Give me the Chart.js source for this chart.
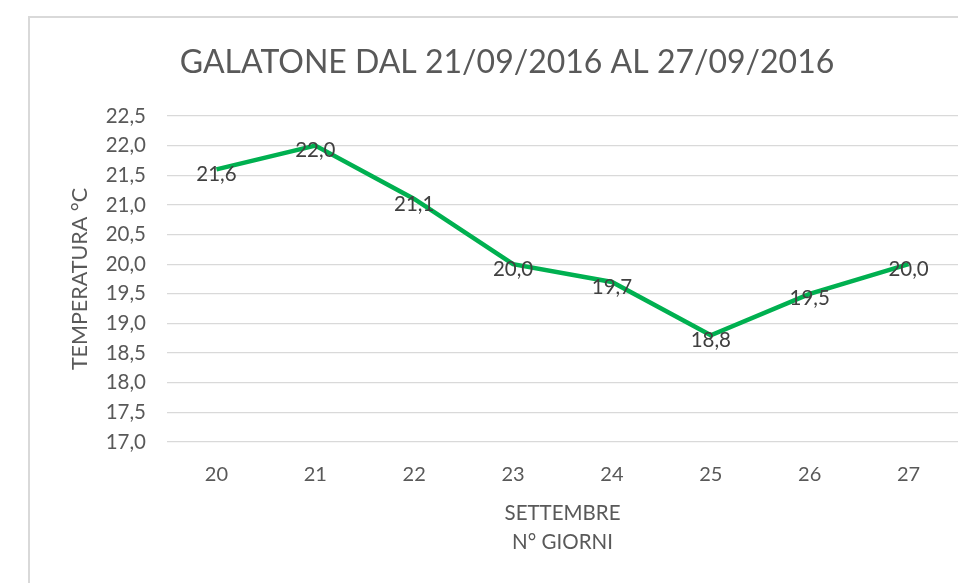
<!DOCTYPE html>
<html>
<head>
<meta charset="utf-8">
<script src="https://cdn.jsdelivr.net/npm/chart.js@4/dist/chart.umd.min.js"></script>
<style>
    html, body { margin: 0; padding: 0; background: #fff; overflow: hidden; }
    #wrap { position: relative; width: 958px; height: 583px; }
    #frame { position: absolute; left: 28px; top: 16px; width: 940px; height: 580px;
             border-left: 2px solid #d9d9d9; border-top: 2px solid #d9d9d9; }
    #grafico { position: absolute; left: 0; top: 0; }
</style>
</head>
<body>
<div id="wrap">
    <div id="frame"></div>
    <canvas id="grafico" width="958" height="583"></canvas>
</div>
<script>
    // Dati: giorni di settembre e temperature medie
    const giorni = ['20', '21', '22', '23', '24', '25', '26', '27'];
    const temperature = [21.6, 22.0, 21.1, 20.0, 19.7, 18.8, 19.5, 20.0];
    const yMin = 17.0;
    const yMax = 22.5;
    const yStep = 0.5;

    const FONT = 'Lato, "Liberation Sans", sans-serif';
    const GRIGIO = '#595959';

    // formato italiano con la virgola
    const virgola = v => Number(v).toFixed(1).replace('.', ',');

    // etichette dei valori sopra ogni punto
    const etichette = {
        id: 'etichette',
        afterDatasetsDraw(chart) {
            const ctx = chart.ctx;
            const meta = chart.getDatasetMeta(0);
            ctx.save();
            ctx.font = '20.5px ' + FONT;
            ctx.fillStyle = '#404040';
            ctx.textAlign = 'center';
            ctx.textBaseline = 'middle';
            meta.data.forEach((p, i) => {
                ctx.fillText(virgola(temperature[i]), p.x, p.y + 5);
            });
            ctx.restore();
        }
    };

    const ctx = document.getElementById('grafico').getContext('2d');
    new Chart(ctx, {
        type: 'line',
        data: {
            labels: giorni,
            datasets: [{
                data: temperature,
                borderColor: '#00b050',
                borderWidth: 4.5,
                pointRadius: 0,
                tension: 0,
                fill: false
            }]
        },
        options: {
            responsive: false,
            animation: false,
            layout: { padding: { left: 56, right: 0, top: 0, bottom: 26 } },
            plugins: {
                legend: { display: false },
                tooltip: { enabled: false },
                title: {
                    display: true,
                    text: 'GALATONE DAL 21/09/2016 AL 27/09/2016',
                    color: GRIGIO,
                    font: { family: FONT, size: 32, weight: 'normal' },
                    padding: { top: 43.8, bottom: 33.8 }
                }
            },
            scales: {
                x: {
                    offset: true,
                    grid: { display: false, drawTicks: false },
                    border: { display: false },
                    ticks: { color: GRIGIO, font: { family: FONT, size: 20 }, padding: 21 },
                    title: {
                        display: true,
                        text: ['SETTEMBRE', 'N° GIORNI'],
                        color: GRIGIO,
                        font: { family: FONT, size: 20.5, lineHeight: 1.42 },
                        padding: 0
                    },
                    afterFit(scale) { scale.height = 115; }
                },
                y: {
                    min: yMin,
                    max: yMax,
                    grid: { color: '#d9d9d9', lineWidth: 1.3, drawTicks: false },
                    border: { display: false },
                    ticks: {
                        stepSize: yStep,
                        color: GRIGIO,
                        font: { family: FONT, size: 20.5 },
                        padding: 21,
                        callback: v => virgola(v)
                    },
                    title: {
                        display: true,
                        text: 'TEMPERATURA °C',
                        color: GRIGIO,
                        font: { family: FONT, size: 21.5 },
                        padding: { top: 11.1, bottom: 0 }
                    },
                    afterFit(scale) { scale.width = 111; }
                }
            }
        },
        plugins: [etichette]
    });
</script>
</body>
</html>
